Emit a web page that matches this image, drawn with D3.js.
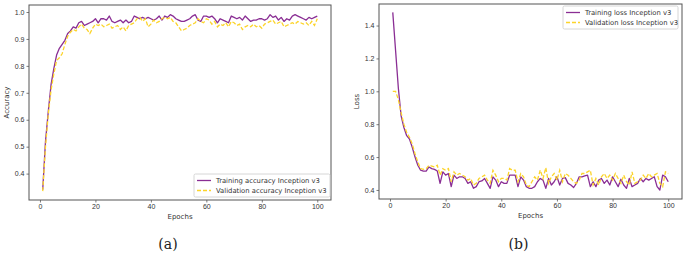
<!DOCTYPE html>
<html>
<head>
<meta charset="utf-8">
<script src="https://cdn.jsdelivr.net/npm/d3@7"></script>
<style>
	body { margin: 0; background: #fff; }
	svg { display: block; font-family: 'DejaVu Sans', sans-serif; }
	.tick text { fill: #333; }
</style>
</head>
<body>
<div id="chart"></div>
<script>
// epochs 1..100
const epochs = d3.range(1, 101);

const trainAcc = [
	0.34, 0.52, 0.63, 0.73, 0.79, 0.84, 0.865, 0.88, 0.895, 0.92,
	0.93, 0.945, 0.94, 0.96, 0.965, 0.95, 0.955, 0.96, 0.965, 0.975,
	0.96, 0.975, 0.975, 0.97, 0.985, 0.965, 0.96, 0.965, 0.97, 0.96,
	0.97, 0.96, 0.965, 0.985, 0.98, 0.975, 0.98, 0.975, 0.98, 0.975,
	0.97, 0.975, 0.985, 0.97, 0.985, 0.98, 0.99, 0.985, 0.975, 0.97,
	0.965, 0.965, 0.97, 0.975, 0.985, 0.99, 0.97, 0.965, 0.985, 0.985,
	0.98, 0.985, 0.975, 0.96, 0.975, 0.97, 0.965, 0.96, 0.985, 0.98,
	0.975, 0.98, 0.97, 0.985, 0.975, 0.965, 0.97, 0.97, 0.975, 0.975,
	0.97, 0.975, 0.99, 0.98, 0.985, 0.97, 0.98, 0.965, 0.975, 0.97,
	0.985, 0.99, 0.985, 0.98, 0.975, 0.97, 0.98, 0.975, 0.98, 0.985
];
const valAcc = [
	0.335, 0.50, 0.62, 0.71, 0.77, 0.82, 0.83, 0.845, 0.88, 0.91,
	0.925, 0.935, 0.93, 0.945, 0.955, 0.94, 0.935, 0.92, 0.94, 0.955,
	0.95, 0.955, 0.945, 0.95, 0.955, 0.94, 0.945, 0.95, 0.935, 0.945,
	0.93, 0.95, 0.955, 0.96, 0.975, 0.98, 0.965, 0.975, 0.945, 0.955,
	0.97, 0.96, 0.965, 0.975, 0.98, 0.975, 0.98, 0.965, 0.96, 0.945,
	0.93, 0.935, 0.94, 0.95, 0.955, 0.96, 0.975, 0.965, 0.96, 0.975,
	0.97, 0.955, 0.965, 0.945, 0.955, 0.95, 0.96, 0.945, 0.965, 0.96,
	0.95, 0.955, 0.935, 0.945, 0.95, 0.945, 0.955, 0.945, 0.95, 0.94,
	0.955, 0.96, 0.965, 0.97, 0.955, 0.96, 0.965, 0.945, 0.95, 0.955,
	0.96, 0.955, 0.965, 0.96, 0.955, 0.96, 0.95, 0.965, 0.95, 0.975
];
const trainLoss = [
	1.48, 1.25, 1.02, 0.85, 0.78, 0.73, 0.71, 0.66, 0.60, 0.55,
	0.52, 0.515, 0.515, 0.54, 0.53, 0.525, 0.515, 0.44, 0.51, 0.49,
	0.50, 0.42, 0.49, 0.47, 0.48, 0.48, 0.47, 0.44, 0.45, 0.41,
	0.42, 0.45, 0.455, 0.47, 0.44, 0.41, 0.48, 0.46, 0.42, 0.45,
	0.44, 0.44, 0.49, 0.49, 0.49, 0.42, 0.48, 0.46, 0.42, 0.41,
	0.41, 0.42, 0.45, 0.47, 0.46, 0.41, 0.47, 0.43, 0.45, 0.48,
	0.43, 0.47, 0.475, 0.44, 0.43, 0.415, 0.44, 0.48, 0.48, 0.485,
	0.49, 0.42, 0.45, 0.42, 0.46, 0.47, 0.44, 0.46, 0.43, 0.48,
	0.45, 0.42, 0.465, 0.43, 0.41, 0.47, 0.42, 0.43, 0.44, 0.47,
	0.45, 0.47, 0.46, 0.47, 0.48, 0.42, 0.40, 0.49, 0.48, 0.45
];
const valLoss = [
	1.00, 1.00, 0.95, 0.87, 0.80, 0.75, 0.72, 0.68, 0.62, 0.57,
	0.53, 0.525, 0.53, 0.55, 0.545, 0.54, 0.55, 0.49, 0.53, 0.52,
	0.53, 0.45, 0.51, 0.49, 0.50, 0.49, 0.48, 0.46, 0.47, 0.43,
	0.44, 0.47, 0.48, 0.49, 0.46, 0.44, 0.52, 0.49, 0.45, 0.47,
	0.47, 0.46, 0.53, 0.52, 0.52, 0.45, 0.50, 0.48, 0.43, 0.42,
	0.45, 0.48, 0.46, 0.52, 0.47, 0.535, 0.44, 0.48, 0.50, 0.46,
	0.52, 0.45, 0.50, 0.49, 0.47, 0.45, 0.44, 0.46, 0.50, 0.50,
	0.51, 0.52, 0.43, 0.47, 0.43, 0.48, 0.50, 0.47, 0.49, 0.46,
	0.50, 0.47, 0.44, 0.49, 0.45, 0.43, 0.51, 0.44, 0.45, 0.46,
	0.49, 0.47, 0.50, 0.48, 0.49, 0.50, 0.44, 0.42, 0.51, 0.50
];

const xTicks = [0, 20, 40, 60, 80, 100];
const accTicks = [0.4, 0.5, 0.6, 0.7, 0.8, 0.9, 1.0];
const lossTicks = [0.4, 0.6, 0.8, 1.0, 1.2, 1.4];

const purple = '#8a2e94';
const gold = '#fcd42a';
const fs = 7;
const legendFs = 6.8;

let svg = d3.select('#chart').append('svg')
	.attr('width', 685)
	.attr('height', 255);

function drawPanel(opt) {
	let x = d3.scaleLinear().domain([-3.95, 104.95]).range([opt.left, opt.right]);
	let y = d3.scaleLinear().domain(opt.yDomain).range([opt.bottom, opt.top]);
	let g = svg.append('g');

	let line = d3.line()
		.x((d, i) => x(epochs[i]))
		.y(d => y(d));

	// lines first, frame on top
	g.append('path')
		.datum(opt.train)
		.attr('fill', 'none')
		.attr('stroke', purple)
		.attr('stroke-width', 1.3)
		.attr('stroke-linejoin', 'round')
		.attr('d', line);
	g.append('path')
		.datum(opt.val)
		.attr('fill', 'none')
		.attr('stroke', gold)
		.attr('stroke-width', 1.3)
		.attr('stroke-dasharray', '4,2')
		.attr('d', line);

	// x axis
	let ax = g.append('g')
		.attr('transform', 'translate(0,' + opt.bottom + ')')
		.call(d3.axisBottom(x).tickValues(xTicks).tickSize(2.5).tickPadding(2).tickFormat(d3.format('d')));
	ax.select('.domain').remove();
	ax.selectAll('line').attr('stroke', '#444').attr('stroke-width', 0.7);
	ax.selectAll('text').attr('font-size', fs);

	// y axis
	let ay = g.append('g')
		.attr('transform', 'translate(' + opt.left + ',0)')
		.call(d3.axisLeft(y).tickValues(opt.yTicks).tickSize(2.5).tickPadding(2).tickFormat(d3.format('.1f')));
	ay.select('.domain').remove();
	ay.selectAll('line').attr('stroke', '#444').attr('stroke-width', 0.7);
	ay.selectAll('text').attr('font-size', fs);

	// frame
	g.append('rect')
		.attr('x', opt.left)
		.attr('y', opt.top)
		.attr('width', opt.right - opt.left)
		.attr('height', opt.bottom - opt.top)
		.attr('fill', 'none')
		.attr('stroke', '#555')
		.attr('stroke-width', 1);

	g.append('text')
		.attr('x', (opt.left + opt.right) / 2)
		.attr('y', opt.bottom + 19)
		.attr('text-anchor', 'middle')
		.attr('font-size', fs)
		.attr('fill', '#333')
		.text('Epochs');

	g.append('text')
		.attr('transform', 'translate(' + opt.ylabelX + ',' + (opt.top + opt.bottom) / 2 + ') rotate(-90)')
		.attr('text-anchor', 'middle')
		.attr('font-size', fs)
		.attr('fill', '#333')
		.text(opt.ylabel);

	// legend
	let lg = g.append('g').attr('transform', 'translate(' + opt.legend.x + ',' + opt.legend.y + ')');
	lg.append('rect')
		.attr('width', opt.legend.w)
		.attr('height', 23)
		.attr('rx', 1.5)
		.attr('fill', '#fff')
		.attr('stroke', '#ccc')
		.attr('stroke-width', 0.8);
	let items = [
		{ label: opt.labels[0], color: purple, dash: null },
		{ label: opt.labels[1], color: gold, dash: '4,2' }
	];
	items.forEach((it, i) => {
		let yy = 6.5 + i * 10;
		lg.append('line')
			.attr('x1', 3).attr('x2', 17)
			.attr('y1', yy).attr('y2', yy)
			.attr('stroke', it.color)
			.attr('stroke-width', 1.3)
			.attr('stroke-dasharray', it.dash);
		lg.append('text')
			.attr('x', 22)
			.attr('y', yy + 2.4)
			.attr('font-size', legendFs)
			.attr('fill', '#333')
			.text(it.label);
	});

	svg.append('text')
		.attr('x', (opt.left + opt.right) / 2 + opt.capShift)
		.attr('y', 249)
		.attr('text-anchor', 'middle')
		.attr('font-family', 'DejaVu Serif, serif')
		.attr('font-size', 14)
		.attr('fill', '#222')
		.text(opt.caption);
}

drawPanel({
	left: 29, right: 331, top: 5, bottom: 200,
	yDomain: [0.302, 1.026],
	yTicks: accTicks,
	train: trainAcc, val: valAcc,
	ylabel: 'Accuracy', ylabelX: 9,
	labels: ['Training accuracy Inception v3', 'Validation accuracy Inception v3'],
	legend: { x: 194, y: 174, w: 136 },
	caption: '(a)', capShift: -12
});

drawPanel({
	left: 379, right: 682, top: 4, bottom: 199,
	yDomain: [0.345, 1.531],
	yTicks: lossTicks,
	train: trainLoss, val: valLoss,
	ylabel: 'Loss', ylabelX: 359,
	labels: ['Training loss Inception v3', 'Validation loss Inception v3'],
	legend: { x: 563, y: 6, w: 115 },
	caption: '(b)', capShift: -12
});
</script>
</body>
</html>
